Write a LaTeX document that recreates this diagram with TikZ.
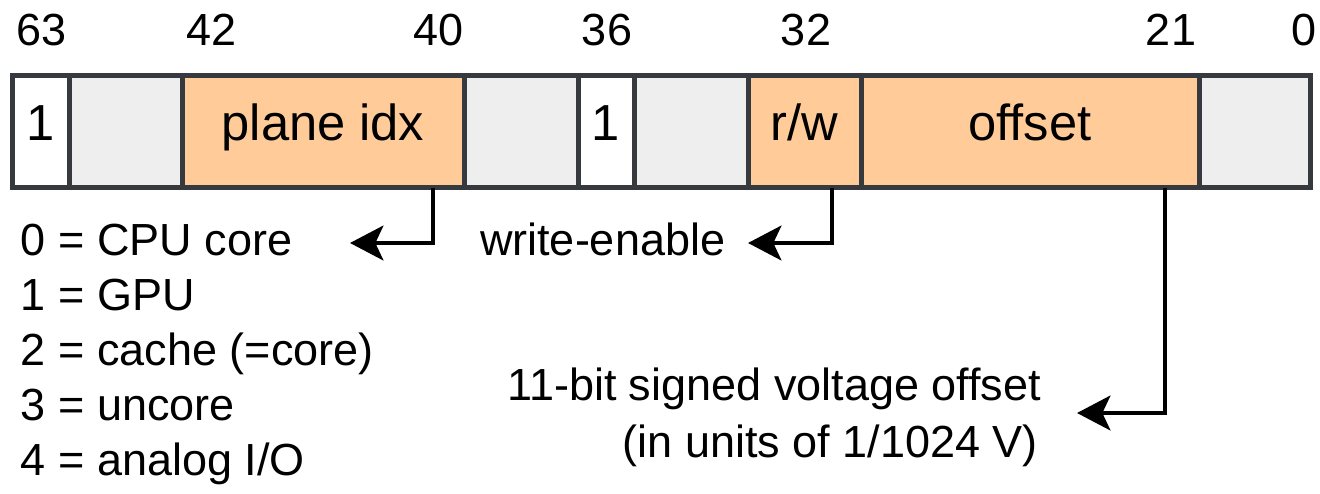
\documentclass[tikz,border=0pt]{standalone}
\usepackage{fontspec}
\setmainfont{Liberation Sans}
\usetikzlibrary{arrows.meta}
\definecolor{edgegray}{HTML}{36393D}
\definecolor{peach}{HTML}{FFCC99}
\definecolor{cellgray}{HTML}{EEEEEE}
\newcommand\figfont{\fontsize{33.75pt}{40.5pt}\selectfont}
\newcommand\cellfont{\fontsize{38pt}{45pt}\selectfont}
\begin{document}
\begin{tikzpicture}[x=0.75pt,y=-0.75pt,
  field/.style={draw=edgegray, line width=3.75pt, minimum height=84.375pt,
    inner sep=0pt, outer sep=0pt, text height=22.5pt, text depth=9pt, font=\cellfont},
  lbl/.style={inner sep=0pt, outer sep=0pt, font=\figfont},
  arr/.style={draw=black, line width=3.4pt,
    -{Stealth[length=25pt,width=26pt,inset=6pt]}}]
\useasboundingbox (0,0) rectangle (1320,493);

% bit numbers
\node[lbl, anchor=base] (n63) at (42,45) {63};
\node[lbl, anchor=base] (n42) at (212,45) {42};
\node[lbl, anchor=base] (n40) at (439,45) {40};
\node[lbl, anchor=base] (n36) at (607,45) {36};
\node[lbl, anchor=base] (n32) at (806,45) {32};
\node[lbl, anchor=base] (n21) at (1171,45) {21};
\node[lbl, anchor=base] (n0) at (1304,45) {0};

% fields
\node[field, fill=white,    minimum width=42.75pt]  (c1) at (40.5,131.25) {1};
\node[field, fill=cellgray, minimum width=84.75pt]  (c2) at (125.5,131.25) {};
\node[field, fill=peach,    minimum width=211.5pt]  (c3) at (323,131.25) {plane idx};
\node[field, fill=cellgray, minimum width=85.5pt]   (c4) at (521,131.25) {};
\node[field, fill=white,    minimum width=42pt]     (c5) at (606,131.25) {1};
\node[field, fill=cellgray, minimum width=85.5pt]   (c6) at (691,131.25) {};
\node[field, fill=peach,    minimum width=84.75pt]  (c7) at (804.5,131.25) {r/w};
\node[field, fill=peach,    minimum width=253.5pt]  (c8) at (1030,131.25) {offset};
\node[field, fill=cellgray, minimum width=83.25pt]  (c9) at (1254.5,131.25) {};

% descriptions
\node[lbl, anchor=base west] (l0) at (21,255) {0 = CPU core};
\node[lbl, anchor=base west] (l1) at (21,310) {1 = GPU};
\node[lbl, anchor=base west] (l2) at (21,365) {2 = cache (=core)};
\node[lbl, anchor=base west] (l3) at (21,420) {3 = uncore};
\node[lbl, anchor=base west] (l4) at (21,475) {4 = analog I/O};
\node[lbl, anchor=base west] (we) at (480,255) {write-enable};
\node[lbl, anchor=base east] (o1) at (1041,400) {11-bit signed voltage offset};
\node[lbl, anchor=base east] (o2) at (1038,457) {(in units of 1/1024 V)};

% connectors
\coordinate (x1) at (433,0);
\coordinate (x2) at (832,0);
\coordinate (x3) at (1165,0);
\coordinate (t1) at (350,243);
\coordinate (t2) at (748,243);
\coordinate (t3) at (1077,413);
\draw[arr] (c3.south -| x1) |- (t1);
\draw[arr] (c7.south -| x2) |- (t2);
\draw[arr] (c8.south -| x3) |- (t3);
\end{tikzpicture}
\end{document}
